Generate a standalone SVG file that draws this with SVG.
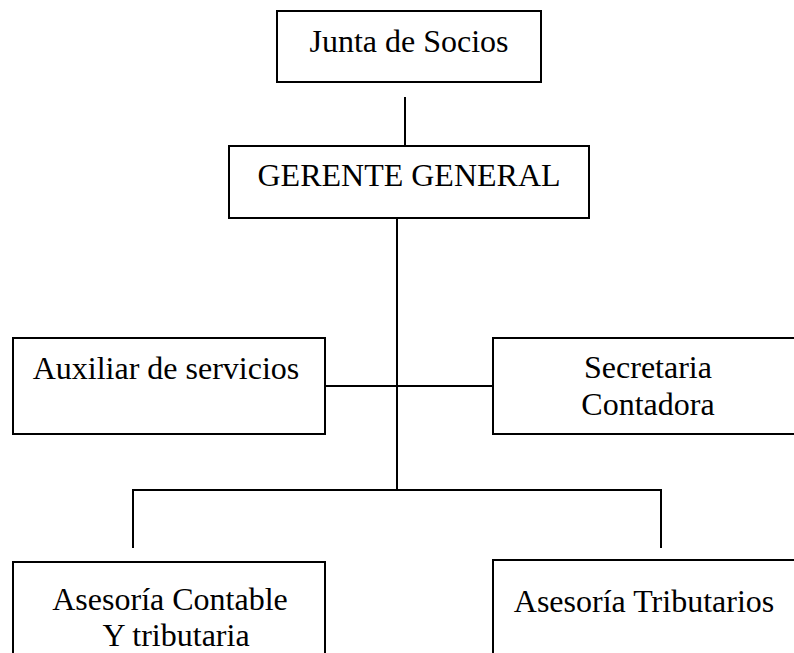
<svg xmlns="http://www.w3.org/2000/svg" width="794" height="653" viewBox="0 0 794 653">
<style>
.box{fill:#fff;stroke:#000;stroke-width:2}
.ln{stroke:#000;stroke-width:2;fill:none}
text{font-family:"Liberation Serif","Times New Roman",serif;font-size:32px;fill:#000;text-anchor:middle}
</style>
<rect width="794" height="653" fill="#fff"/>
<g id="connectors">
<line class="ln" x1="405" y1="97" x2="405" y2="146"/>
<line class="ln" x1="397" y1="218" x2="397" y2="490"/>
<line class="ln" x1="325" y1="386" x2="493" y2="386"/>
<line class="ln" x1="132" y1="490" x2="662" y2="490"/>
<line class="ln" x1="133" y1="489" x2="133" y2="548"/>
<line class="ln" x1="661" y1="489" x2="661" y2="548"/>
</g>
<g id="junta">
<rect class="box" x="277" y="11" width="264" height="71"/>
<text x="409" y="52">Junta de Socios</text>
</g>
<g id="gerente">
<rect class="box" x="229" y="146" width="360" height="72"/>
<text x="409" y="186">GERENTE GENERAL</text>
</g>
<g id="auxiliar">
<rect class="box" x="13" y="338" width="312" height="96"/>
<text x="166" y="379">Auxiliar de servicios</text>
</g>
<g id="secretaria">
<rect class="box" x="493" y="338" width="312" height="96"/>
<text x="648" y="378">Secretaria</text>
<text x="648" y="415">Contadora</text>
</g>
<g id="asesoria-contable">
<rect class="box" x="13" y="562" width="312" height="100"/>
<text x="170" y="610">Asesoría Contable</text>
<text x="176" y="646">Y tributaria</text>
</g>
<g id="asesoria-tributarios">
<rect class="box" x="493" y="560" width="312" height="100"/>
<text x="644" y="612">Asesoría Tributarios</text>
</g>
</svg>
